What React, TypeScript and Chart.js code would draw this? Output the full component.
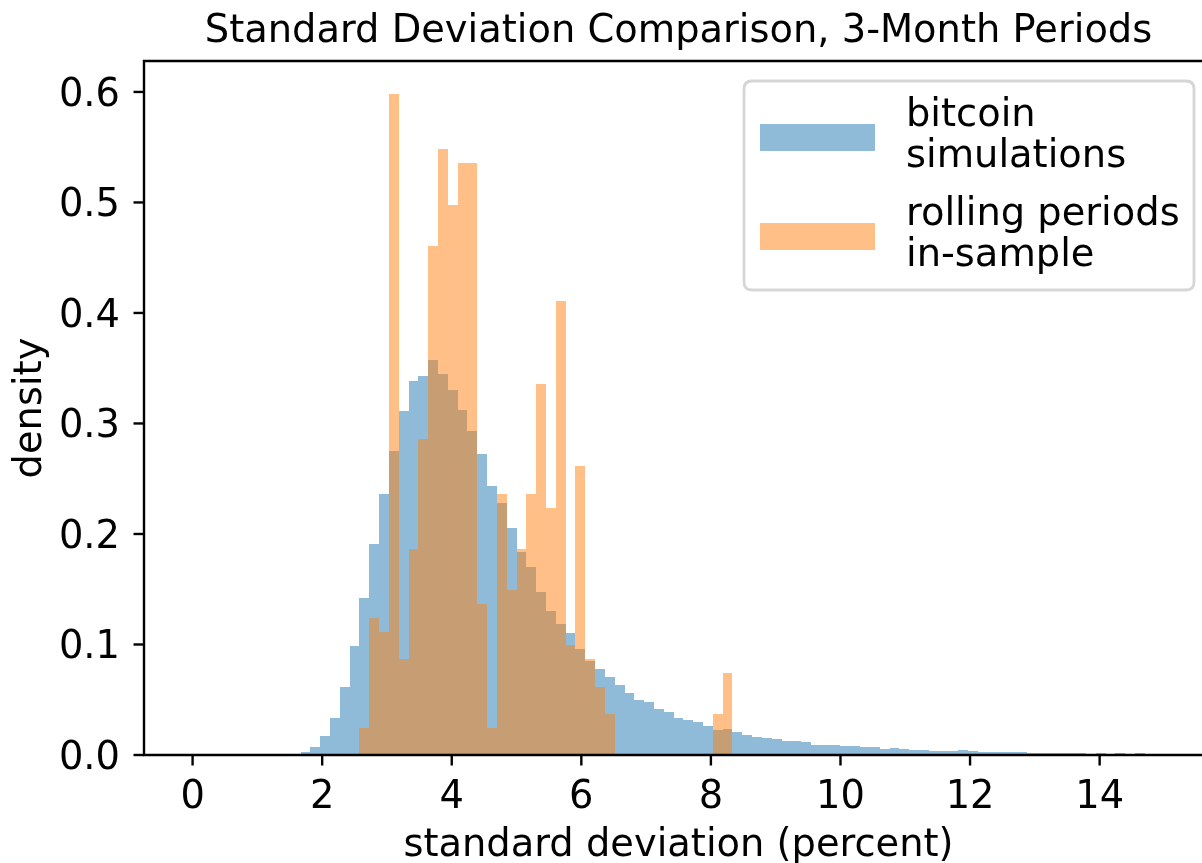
import React, { useEffect, useRef } from "react";
import { Chart, registerables } from "chart.js";

Chart.register(...registerables);

// ---- data (histogram bins: 99 equal bins from 0 to 15) ----
const BIN_START = 0;
const BIN_END = 15;
const BIN_COUNT = 99;

const BITCOIN_SIMULATIONS = [
  0, 0, 0, 0, 0, 0, 0, 0, 0, 0, 0,
  0.0023, 0.0071, 0.017, 0.0333, 0.0614, 0.0985, 0.1419, 0.1908, 0.236, 0.2749,
  0.3111, 0.3383, 0.3428, 0.3573, 0.3446, 0.3301, 0.312, 0.293, 0.272, 0.2433,
  0.2279, 0.2053, 0.1835, 0.17, 0.1473, 0.13, 0.1183, 0.1102, 0.0958, 0.0849,
  0.0776, 0.0704, 0.0632, 0.0559, 0.0496, 0.0478, 0.0414, 0.0387, 0.0333, 0.0315,
  0.0296, 0.026, 0.0224, 0.0233, 0.0206, 0.0179, 0.0161, 0.0152, 0.0143, 0.0125,
  0.0125, 0.0116, 0.0089, 0.0089, 0.0089, 0.008, 0.008, 0.0071, 0.0071, 0.0053,
  0.0062, 0.0053, 0.0044, 0.0044, 0.0035, 0.0035, 0.0035, 0.0044, 0.0035, 0.0026,
  0.0026, 0.0026, 0.0026, 0.0026, 0.0017, 0.0017, 0.0017, 0.0017, 0.0017, 0.0017,
  0, 0.0017, 0, 0.0017, 0, 0.0017, 0, 0,
];

const ROLLING_PERIODS = [
  0, 0, 0, 0, 0, 0, 0, 0, 0, 0, 0, 0, 0, 0, 0, 0, 0,
  0.0243, 0.1238, 0.1111, 0.598, 0.0867, 0.1862, 0.2857, 0.4605, 0.548, 0.4976,
  0.5356, 0.5356, 0.1368, 0.0245, 0.236, 0.1494, 0.1862, 0.236, 0.3355, 0.2233,
  0.4107, 0.0994, 0.2614, 0.0867, 0.0614, 0.0369,
  0, 0, 0, 0, 0, 0, 0, 0, 0, 0,
  0.0369, 0.074,
  0, 0, 0, 0, 0, 0, 0, 0, 0, 0, 0, 0, 0, 0, 0, 0, 0, 0, 0, 0, 0, 0,
  0, 0, 0, 0, 0, 0, 0, 0, 0, 0, 0, 0, 0, 0, 0, 0, 0, 0, 0, 0, 0, 0,
];

const X_TICKS = [0, 2, 4, 6, 8, 10, 12, 14];
const X_TICK_LABELS = ["0", "2", "4", "6", "8", "10", "12", "14"];
const Y_TICKS = [0, 0.1, 0.2, 0.3, 0.4, 0.5, 0.6];
const Y_TICK_LABELS = ["0.0", "0.1", "0.2", "0.3", "0.4", "0.5", "0.6"];

const TITLE = "Standard Deviation Comparison, 3-Month Periods";
const X_LABEL = "standard deviation (percent)";
const Y_LABEL = "density";
const SERIES_NAMES = [
  ["bitcoin", "simulations"],
  ["rolling periods", "in-sample"],
];

const BLUE = "rgba(31,119,180,0.5)";
const ORANGE = "rgba(255,127,14,0.5)";

// ---- layout / style ----
const W = 1202;
const H = 863;
const FONT_PX = 38.4;
const FONT = `${FONT_PX}px "DejaVu Sans"`;

const X_MIN = -0.75;
const X_MAX = 15.58;
const Y_MIN = 0;
const Y_MAX = 0.628;

function text(
  ctx: CanvasRenderingContext2D,
  s: string,
  x: number,
  y: number,
  align: CanvasTextAlign,
  rotate = false
) {
  ctx.save();
  ctx.translate(x, y);
  if (rotate) ctx.rotate(-Math.PI / 2);
  ctx.font = FONT;
  ctx.fillStyle = "#000";
  ctx.textAlign = align;
  ctx.textBaseline = "alphabetic";
  ctx.fillText(s, 0, 0);
  ctx.restore();
}

// snap bar edges to whole pixels (like matplotlib) so adjacent bins show no seams
const snapPlugin = {
  id: "snapBars",
  beforeDatasetsDraw(chart: any) {
    chart.getSortedVisibleDatasetMetas().forEach((meta: any) => {
      meta.data.forEach((el: any) => {
        const l = Math.round(el.x - el.width / 2);
        const r = Math.round(el.x + el.width / 2);
        el.x = (l + r) / 2;
        el.width = r - l;
        el.y = Math.round(el.y);
        el.base = Math.round(el.base);
      });
    });
  },
};

const decorPlugin = {
  id: "mplDecor",
  afterDraw(chart: any) {
    const ctx: CanvasRenderingContext2D = chart.ctx;
    const xs = chart.scales.x;
    const ys = chart.scales.y;
    const a = chart.chartArea;
    ctx.save();
    ctx.strokeStyle = "#000";
    ctx.lineCap = "square";
    // spines
    ctx.lineWidth = 2.4;
    ctx.beginPath();
    ctx.moveTo(a.left, a.top);
    ctx.lineTo(a.right + 5, a.top);
    ctx.moveTo(a.left, a.bottom);
    ctx.lineTo(a.right + 5, a.bottom);
    ctx.moveTo(a.left, a.top);
    ctx.lineTo(a.left, a.bottom);
    ctx.stroke();
    // x ticks
    ctx.lineCap = "butt";
    X_TICKS.forEach((v, i) => {
      const px = xs.getPixelForValue(v);
      ctx.beginPath();
      ctx.moveTo(px, a.bottom);
      ctx.lineTo(px, a.bottom + 10.5);
      ctx.stroke();
      text(ctx, X_TICK_LABELS[i], px, a.bottom + 52.5, "center");
    });
    // y ticks
    Y_TICKS.forEach((v, i) => {
      const py = ys.getPixelForValue(v);
      ctx.beginPath();
      ctx.moveTo(a.left - 10.5, py);
      ctx.lineTo(a.left, py);
      ctx.stroke();
      text(ctx, Y_TICK_LABELS[i], a.left - 24, py + 13.9, "right");
    });
    // title & axis labels (centered on full axes span)
    const axesCenterX = xs.getPixelForValue(7.5);
    text(ctx, TITLE, axesCenterX, a.top - 19, "center");
    text(ctx, X_LABEL, axesCenterX, 856, "center");
    text(ctx, Y_LABEL, 41, (a.top + a.bottom) / 2, "center", true);

    // legend
    const lx = 744, ly = 81, lw = 450, lh = 209, r = 8;
    ctx.beginPath();
    ctx.moveTo(lx + r, ly);
    ctx.lineTo(lx + lw - r, ly);
    ctx.quadraticCurveTo(lx + lw, ly, lx + lw, ly + r);
    ctx.lineTo(lx + lw, ly + lh - r);
    ctx.quadraticCurveTo(lx + lw, ly + lh, lx + lw - r, ly + lh);
    ctx.lineTo(lx + r, ly + lh);
    ctx.quadraticCurveTo(lx, ly + lh, lx, ly + lh - r);
    ctx.lineTo(lx, ly + r);
    ctx.quadraticCurveTo(lx, ly, lx + r, ly);
    ctx.closePath();
    ctx.fillStyle = "rgba(255,255,255,0.8)";
    ctx.fill();
    ctx.strokeStyle = "rgba(204,204,204,0.8)";
    ctx.lineWidth = 2.8;
    ctx.stroke();

    const colors = [BLUE, ORANGE];
    const patchTops = [124, 223];
    const baselines = [
      [125.5, 166.5],
      [225, 265.5],
    ];
    SERIES_NAMES.forEach((lines, i) => {
      ctx.fillStyle = colors[i];
      ctx.fillRect(760, patchTops[i], 115, 27);
      lines.forEach((t, j) => text(ctx, t, 906, baselines[i][j], "left"));
    });
    ctx.restore();
  },
};

export default function App() {
  const ref = useRef<HTMLCanvasElement | null>(null);

  useEffect(() => {
    if (!ref.current) return;
    const binWidth = (BIN_END - BIN_START) / BIN_COUNT;
    const toPoints = (vals: number[]) =>
      vals.map((v, i) => ({ x: BIN_START + (i + 0.5) * binWidth, y: v }));

    const chart = new Chart(ref.current, {
      type: "bar",
      data: {
        datasets: [
          {
            label: "bitcoin simulations",
            data: toPoints(BITCOIN_SIMULATIONS),
            backgroundColor: BLUE,
            borderWidth: 0,
            inflateAmount: 0,
            grouped: false,
            barPercentage: 1,
            categoryPercentage: 1,
            order: 1,
          } as any,
          {
            label: "rolling periods in-sample",
            data: toPoints(ROLLING_PERIODS),
            backgroundColor: ORANGE,
            borderWidth: 0,
            inflateAmount: 0,
            grouped: false,
            barPercentage: 1,
            categoryPercentage: 1,
            order: 0,
          } as any,
        ],
      },
      options: {
        animation: false,
        responsive: false,
        devicePixelRatio: 1,
        events: [],
        layout: { padding: { top: 61, left: 0, right: 0, bottom: 0 } },
        plugins: {
          legend: { display: false },
          title: { display: false },
          tooltip: { enabled: false },
        },
        scales: {
          x: {
            type: "linear",
            min: X_MIN,
            max: X_MAX,
            offset: false,
            grid: { display: false },
            border: { display: false },
            ticks: { display: false },
            afterFit: (s: any) => {
              s.height = 108;
            },
          },
          y: {
            type: "linear",
            min: Y_MIN,
            max: Y_MAX,
            grid: { display: false },
            border: { display: false },
            ticks: { display: false },
            afterFit: (s: any) => {
              s.width = 144;
            },
          },
        },
      },
      plugins: [snapPlugin, decorPlugin],
    });
    return () => chart.destroy();
  }, []);

  return (
    <div
      style={{
        position: "absolute",
        left: 0,
        top: 0,
        width: W,
        height: H,
        overflow: "hidden",
        background: "#fff",
      }}
    >
      <canvas ref={ref} width={W} height={H} style={{ display: "block" }} />
    </div>
  );
}
